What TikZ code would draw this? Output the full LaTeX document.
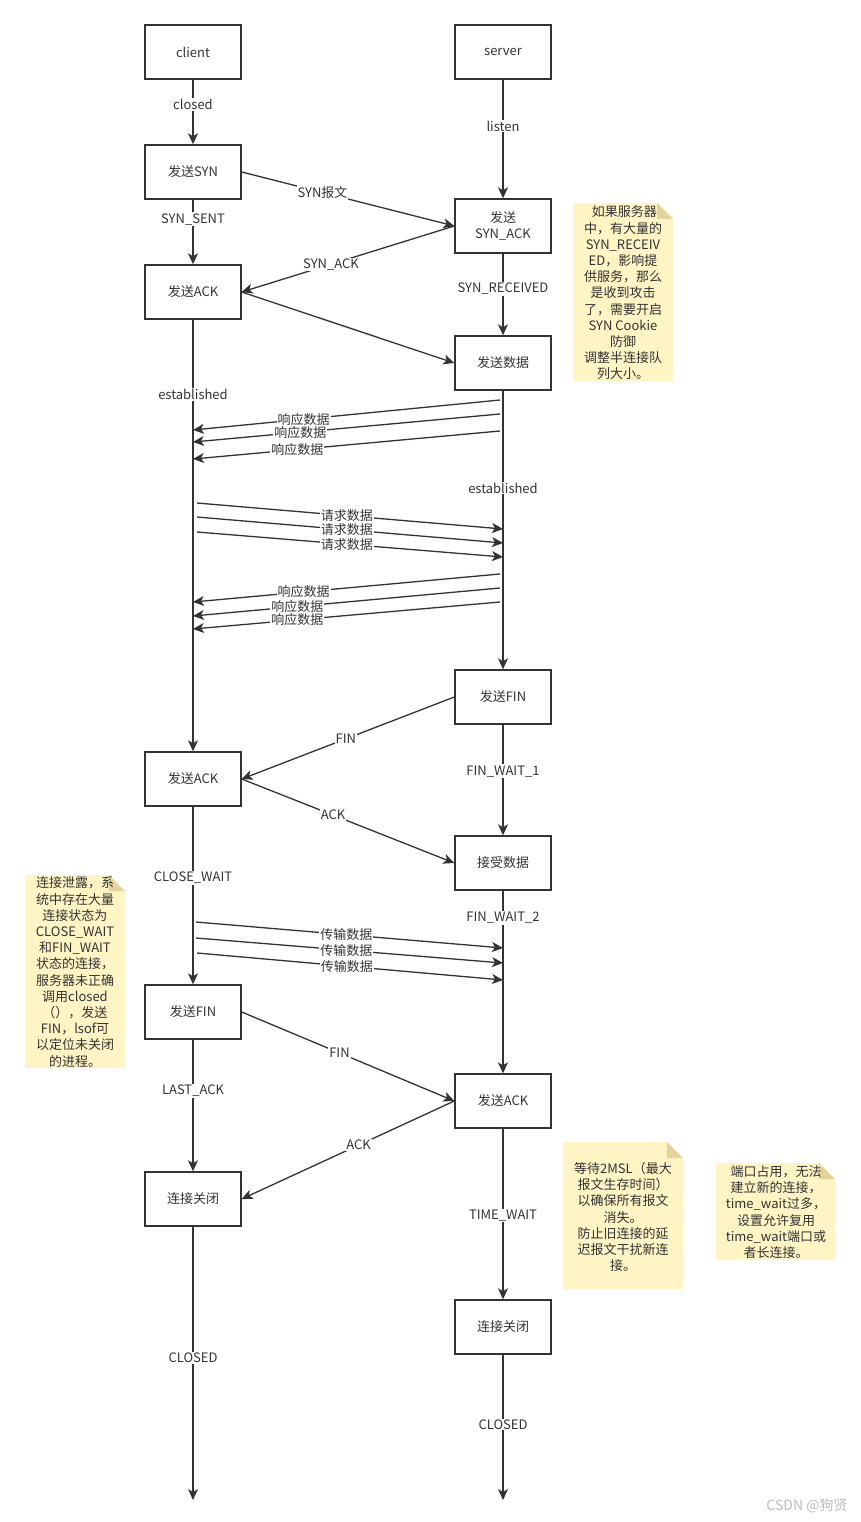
\documentclass[tikz,border=0pt]{standalone}
\usepackage{fontspec}
\setmainfont{Noto Sans CJK SC}
\usetikzlibrary{arrows.meta}
\definecolor{ln}{HTML}{333333}
\definecolor{notefill}{HTML}{FFF4C4}
\definecolor{notefold}{HTML}{E3D49C}
\definecolor{wm}{HTML}{BDBDBD}
\begin{document}
\begin{tikzpicture}[x=1pt,y=-1pt,
  box/.style={draw=ln, line width=1.4pt, minimum width=96pt, minimum height=54pt,
    inner sep=0pt, align=center, text=ln, font=\fontsize{13}{16}\selectfont},
  arr/.style={draw=ln, line width=1.3pt, -{Stealth[length=11pt,width=10pt,inset=3pt]}},
  lbl/.style={fill=white, inner sep=1pt, text=ln, font=\fontsize{13}{15}\selectfont},
  notetext/.style={inner sep=0pt, align=center, text=ln, font=\fontsize{13}{16.2}\selectfont},
  notebg/.style={fill=notefill},
  foldbg/.style={fill=notefold}
]
\useasboundingbox[fill=white] (0,0) rectangle (860,1522);

% boxes
\node[box] (client) at (193,52) {client};
\node[box] (server) at (503,52) {server};
\node[box] (syn) at (193,172) {发送SYN};
\node[box] (synack) at (503,226) {发送\\SYN\_ACK};
\node[box] (ack1) at (193,292) {发送ACK};
\node[box] (data) at (503,363) {发送数据};
\node[box] (fin1) at (503,697) {发送FIN};
\node[box] (ack2) at (193,779) {发送ACK};
\node[box] (recv) at (503,863) {接受数据};
\node[box] (fin2) at (193,1012) {发送FIN};
\node[box] (ack3) at (503,1101) {发送ACK};
\node[box] (close1) at (193,1199) {连接关闭};
\node[box] (close2) at (503,1327) {连接关闭};
\coordinate (e1) at (193,1500);
\coordinate (e2) at (503,1500);

% lifelines
\draw[arr] (client) -- node[lbl,pos=0.38]{closed} (syn);
\draw[arr] (server) -- node[lbl,pos=0.39]{listen} (synack);
\draw[arr] (syn) -- node[lbl,pos=0.30]{SYN\_SENT} (ack1);
\draw[arr] (synack) -- node[lbl,pos=0.43]{SYN\_RECEIVED} (data);
\draw[arr] (ack1) -- node[lbl,pos=0.173]{established} (ack2);
\draw[arr] (data) -- node[lbl,pos=0.35]{established} (fin1);
\draw[arr] (fin1) -- node[lbl,pos=0.42]{FIN\_WAIT\_1} (recv);
\draw[arr] (ack2) -- node[lbl,pos=0.40]{CLOSE\_WAIT} (fin2);
\draw[arr] (recv) -- node[lbl,pos=0.15]{FIN\_WAIT\_2} (ack3);
\draw[arr] (fin2) -- node[lbl,pos=0.39]{LAST\_ACK} (close1);
\draw[arr] (ack3) -- node[lbl,pos=0.51]{TIME\_WAIT} (close2);
\draw[arr] (close1) -- node[lbl,pos=0.48]{CLOSED} (e1);
\draw[arr] (close2) -- node[lbl,pos=0.48]{CLOSED} (e2);

% handshake
\draw[arr] (syn.east) -- node[lbl,pos=0.38]{SYN报文} (synack.west);
\draw[arr] (synack.west) -- node[lbl,pos=0.58]{SYN\_ACK} (ack1.east);
\draw[arr] (ack1.east) -- (data.west);

% data responses 1
\coordinate (r1s) at (500,400); \coordinate (r1e) at (193,430);
\coordinate (r2s) at (500,414); \coordinate (r2e) at (193,442);
\coordinate (r3s) at (500,431); \coordinate (r3e) at (193,459);
\draw[arr] (r1s) -- node[lbl,pos=0.64]{响应数据} (r1e);
\draw[arr] (r2s) -- node[lbl,pos=0.65]{响应数据} (r2e);
\draw[arr] (r3s) -- node[lbl,pos=0.66]{响应数据} (r3e);

% requests
\coordinate (q1s) at (197,503); \coordinate (q1e) at (503,529);
\coordinate (q2s) at (197,517); \coordinate (q2e) at (503,543);
\coordinate (q3s) at (197,532); \coordinate (q3e) at (503,557);
\draw[arr] (q1s) -- node[lbl,pos=0.49]{请求数据} (q1e);
\draw[arr] (q2s) -- node[lbl,pos=0.49]{请求数据} (q2e);
\draw[arr] (q3s) -- node[lbl,pos=0.49]{请求数据} (q3e);

% data responses 2
\coordinate (s1s) at (500,574); \coordinate (s1e) at (193,602);
\coordinate (s2s) at (500,588); \coordinate (s2e) at (193,616);
\coordinate (s3s) at (500,602); \coordinate (s3e) at (193,629);
\draw[arr] (s1s) -- node[lbl,pos=0.64]{响应数据} (s1e);
\draw[arr] (s2s) -- node[lbl,pos=0.66]{响应数据} (s2e);
\draw[arr] (s3s) -- node[lbl,pos=0.66]{响应数据} (s3e);

% close
\draw[arr] (fin1.west) -- node[lbl,pos=0.51]{FIN} (ack2.east);
\draw[arr] (ack2.east) -- node[lbl,pos=0.43]{ACK} (recv.west);

% transfers
\coordinate (t1s) at (196,922); \coordinate (t1e) at (503,948);
\coordinate (t2s) at (196,938); \coordinate (t2e) at (503,963);
\coordinate (t3s) at (197,953); \coordinate (t3e) at (503,980);
\draw[arr] (t1s) -- node[lbl,pos=0.49]{传输数据} (t1e);
\draw[arr] (t2s) -- node[lbl,pos=0.49]{传输数据} (t2e);
\draw[arr] (t3s) -- node[lbl,pos=0.49]{传输数据} (t3e);

\draw[arr] (fin2.east) -- node[lbl,pos=0.46]{FIN} (ack3.west);
\draw[arr] (ack3.west) -- node[lbl,pos=0.45]{ACK} (close1.east);

% notes
\fill[notebg] (573,203) -- (657,203) -- (673,219) -- (673,381) -- (573,381) -- cycle;
\fill[foldbg] (657,203) -- (673,219) -- (657,219) -- cycle;
\node[notetext] (n1) at (623,293) {\ 如果服务器\\中，有大量的\\SYN\_RECEIV\\ED，影响提\\供服务，那么\\是收到攻击\\了，需要开启\\SYN Cookie\\防御\\调整半连接队\\列大小。};

\fill[notebg] (25,875) -- (109,875) -- (125,891) -- (125,1068) -- (25,1068) -- cycle;
\fill[foldbg] (109,875) -- (125,891) -- (109,891) -- cycle;
\node[notetext] (n2) at (75,972) {连接泄露，系\\统中存在大量\\连接状态为\\CLOSE\_WAIT\\和FIN\_WAIT\\状态的连接，\\服务器未正确\\调用closed\\（），发送\\FIN，lsof可\\以定位未关闭\\的进程。};

\fill[notebg] (563,1142) -- (667,1142) -- (683,1158) -- (683,1289) -- (563,1289) -- cycle;
\fill[foldbg] (667,1142) -- (683,1158) -- (667,1158) -- cycle;
\node[notetext] (n3) at (623,1217) {等待2MSL（最大\\报文生存时间）\\以确保所有报文\\消失。\\防止旧连接的延\\迟报文干扰新连\\接。};

\fill[notebg] (716,1163) -- (819,1163) -- (835,1179) -- (835,1260) -- (716,1260) -- cycle;
\fill[foldbg] (819,1163) -- (835,1179) -- (819,1179) -- cycle;
\node[notetext] (n4) at (776,1212) {端口占用，无法\\建立新的连接，\\time\_wait过多，\\设置允许复用\\time\_wait端口或\\者长连接。};

\node[text=wm, inner sep=0pt, font=\fontsize{14}{16}\selectfont] (csdn) at (807,1506) {CSDN @狗贤};
\end{tikzpicture}
\end{document}
